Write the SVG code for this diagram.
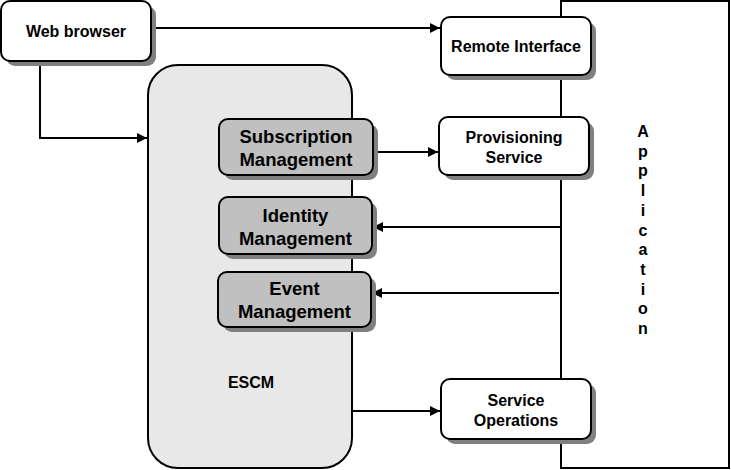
<svg xmlns="http://www.w3.org/2000/svg" width="731" height="470" viewBox="0 0 731 470">
<style>
.box{fill:#fff;stroke:#000;stroke-width:2}
.gbox{fill:#c0c0c0;stroke:#000;stroke-width:2}
.sh{fill:#808080;stroke:none}
.t{font-family:"Liberation Sans",Arial,sans-serif;font-weight:bold;font-size:16px;fill:#000;text-anchor:middle}
.tg{font-family:"Liberation Sans",Arial,sans-serif;font-weight:bold;font-size:18.5px;fill:#000;text-anchor:middle}
.ta{font-family:"Liberation Sans",Arial,sans-serif;font-weight:bold;font-size:16px;fill:#000;text-anchor:middle}
.ln{fill:none;stroke:#000;stroke-width:2}
</style>
<defs>
<marker id="ah" viewBox="0 0 10 10" refX="10" refY="5" markerWidth="10" markerHeight="10" markerUnits="userSpaceOnUse" orient="auto">
<path d="M0,0 L10,5 L0,10 Z" fill="#000"/>
</marker>
</defs>
<rect width="731" height="470" fill="#fff"/>
<g id="application">
<rect x="561" y="1" width="168" height="467" fill="#fff" stroke="#000" stroke-width="2"/>
<text class="ta"><tspan x="643" y="137">A</tspan><tspan x="643" y="156.7">p</tspan><tspan x="643" y="176.4">p</tspan><tspan x="643" y="196.1">l</tspan><tspan x="643" y="215.8">i</tspan><tspan x="643" y="235.5">c</tspan><tspan x="643" y="255.2">a</tspan><tspan x="643" y="274.9">t</tspan><tspan x="643" y="294.6">i</tspan><tspan x="643" y="314.3">o</tspan><tspan x="643" y="334">n</tspan></text>
</g>
<g id="escm">
<rect x="148" y="65" width="204" height="403" rx="30" ry="30" fill="#e8e8e8" stroke="#000" stroke-width="2"/>
<text class="t" x="251" y="388">ESCM</text>
</g>
<g id="connectors">
<path class="ln" d="M151,28 H440" marker-end="url(#ah)"/>
<path class="ln" d="M40,61 V138 H147" marker-end="url(#ah)"/>
<path class="ln" d="M373,152 H438" marker-end="url(#ah)"/>
<path class="ln" d="M561,227 H373" marker-end="url(#ah)"/>
<path class="ln" d="M559,293 H372" marker-end="url(#ah)"/>
<path class="ln" d="M352,411 H440" marker-end="url(#ah)"/>
</g>
<g id="web-browser">
<rect class="sh" x="6" y="6" width="150" height="60" rx="9"/>
<rect class="box" x="1" y="1" width="150" height="60" rx="9"/>
<text class="t" x="76" y="37">Web browser</text>
</g>
<g id="remote-interface">
<rect class="sh" x="446" y="22" width="150" height="58" rx="9"/>
<rect class="box" x="441" y="17" width="150" height="58" rx="9"/>
<text class="t" x="516" y="52">Remote Interface</text>
</g>
<g id="provisioning-service">
<rect class="sh" x="444" y="122" width="150" height="58" rx="9"/>
<rect class="box" x="439" y="117" width="150" height="58" rx="9"/>
<text class="t" x="514" y="143">Provisioning</text>
<text class="t" x="514" y="163">Service</text>
</g>
<g id="subscription-management">
<rect class="sh" x="224" y="124" width="154" height="56" rx="9"/>
<rect class="gbox" x="219" y="119" width="154" height="56" rx="9"/>
<text class="tg" x="296" y="143">Subscription</text>
<text class="tg" x="296" y="166">Management</text>
</g>
<g id="identity-management">
<rect class="sh" x="224" y="202" width="153" height="57" rx="9"/>
<rect class="gbox" x="219" y="197" width="153" height="57" rx="9"/>
<text class="tg" x="295.5" y="222">Identity</text>
<text class="tg" x="295.5" y="245">Management</text>
</g>
<g id="event-management">
<rect class="sh" x="223" y="277" width="153" height="55" rx="9"/>
<rect class="gbox" x="218" y="272" width="153" height="55" rx="9"/>
<text class="tg" x="294.5" y="295">Event</text>
<text class="tg" x="294.5" y="318">Management</text>
</g>
<g id="service-operations">
<rect class="sh" x="446" y="384" width="150" height="60" rx="9"/>
<rect class="box" x="441" y="379" width="150" height="60" rx="9"/>
<text class="t" x="516" y="406">Service</text>
<text class="t" x="516" y="426">Operations</text>
</g>
</svg>
